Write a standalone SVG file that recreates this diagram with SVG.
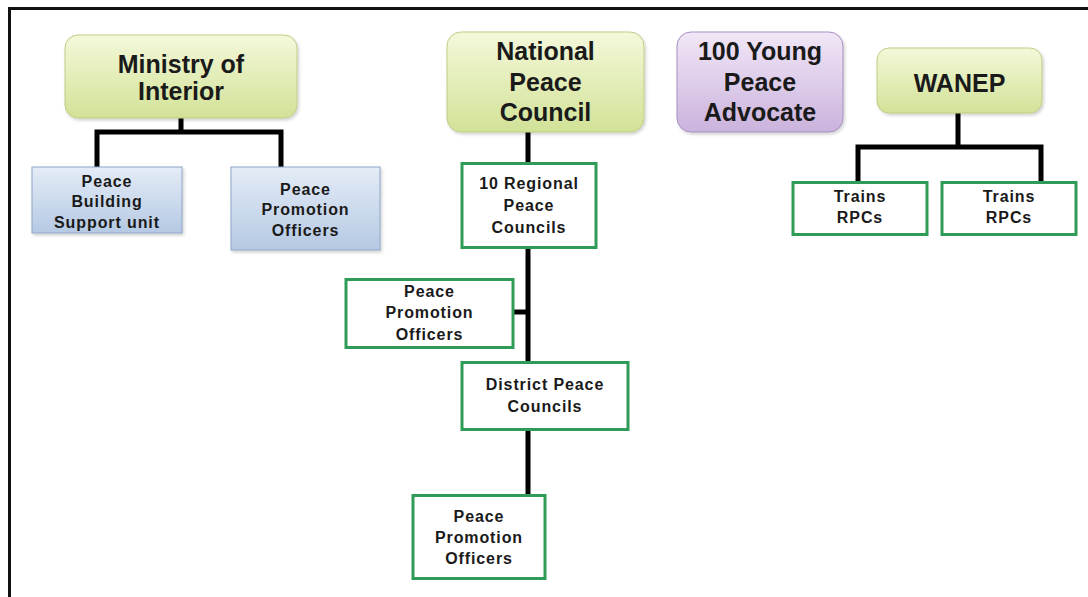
<svg xmlns="http://www.w3.org/2000/svg" width="1088" height="597" viewBox="0 0 1088 597">
  <defs>
    <linearGradient id="gGreen" x1="0" y1="0" x2="0" y2="1">
      <stop offset="0" stop-color="#f4f8da"/>
      <stop offset="1" stop-color="#d2e297"/>
    </linearGradient>
    <linearGradient id="gPurple" x1="0" y1="0" x2="0" y2="1">
      <stop offset="0" stop-color="#f1e7f7"/>
      <stop offset="1" stop-color="#cbb3dd"/>
    </linearGradient>
    <linearGradient id="gBlue" x1="0" y1="0" x2="0" y2="1">
      <stop offset="0" stop-color="#e4ecf7"/>
      <stop offset="1" stop-color="#b5c9e3"/>
    </linearGradient>
    <filter id="shadow" x="-10%" y="-10%" width="125%" height="130%">
      <feDropShadow dx="1.5" dy="2" stdDeviation="1.5" flood-color="#000" flood-opacity="0.18"/>
    </filter>
  </defs>
  <style>
    .frame { fill: none; stroke: #111; stroke-width: 3; }
    .link { fill: none; stroke: #000; stroke-width: 5; }
    .head-green { fill: url(#gGreen); stroke: #bccd85; stroke-width: 1; filter: url(#shadow); }
    .head-purple { fill: url(#gPurple); stroke: #a68fbe; stroke-width: 1; filter: url(#shadow); }
    .unit-blue { fill: url(#gBlue); stroke: #8ea6c7; stroke-width: 1; filter: url(#shadow); }
    .unit-green { fill: #fff; stroke: #2e9b57; stroke-width: 3; }
    .big { font-family: "Liberation Sans", Arial, sans-serif; font-weight: bold; font-size: 25px; fill: #1a1a1a; text-anchor: middle; }
    .small { font-family: "Liberation Sans", Arial, sans-serif; font-weight: bold; font-size: 16px; fill: #1a1a1a; text-anchor: middle; letter-spacing: 0.9px; }
  </style>

  <rect width="1088" height="597" fill="#fff"/>
  <path class="frame" d="M9.5 597 V8.5 H1088"/>

  <!-- connectors -->
  <g id="connectors">
    <path class="link" d="M181 118 V132 M97 167 V132 H281 V167"/>
    <path class="link" d="M528 132 V163 M528 247 V362 M513 312 H528 M528 429 V495"/>
    <path class="link" d="M958 113 V147 M858 182 V147 H1041 V182"/>
  </g>

  <!-- Ministry of Interior branch -->
  <g id="ministry-of-interior">
    <rect class="head-green" x="65" y="35" width="232" height="83" rx="13"/>
    <text class="big" x="181" y="73">Ministry of</text>
    <text class="big" x="181" y="100">Interior</text>
  </g>
  <g id="peace-building-support-unit">
    <rect class="unit-blue" x="32" y="167" width="150" height="66"/>
    <text class="small" x="107" y="187">Peace</text>
    <text class="small" x="107" y="207">Building</text>
    <text class="small" x="107" y="228">Support unit</text>
  </g>
  <g id="ministry-peace-promotion-officers">
    <rect class="unit-blue" x="231" y="167" width="149" height="83"/>
    <text class="small" x="305.5" y="195">Peace</text>
    <text class="small" x="305.5" y="215">Promotion</text>
    <text class="small" x="305.5" y="236">Officers</text>
  </g>

  <!-- National Peace Council branch -->
  <g id="national-peace-council">
    <rect class="head-green" x="447" y="32" width="197" height="100" rx="14"/>
    <text class="big" x="545.5" y="60">National</text>
    <text class="big" x="545.5" y="91">Peace</text>
    <text class="big" x="545.5" y="121">Council</text>
  </g>
  <g id="regional-peace-councils">
    <rect class="unit-green" x="462" y="163.5" width="134" height="84"/>
    <text class="small" x="529" y="189">10 Regional</text>
    <text class="small" x="529" y="211">Peace</text>
    <text class="small" x="529" y="233">Councils</text>
  </g>
  <g id="regional-peace-promotion-officers">
    <rect class="unit-green" x="346" y="279.5" width="167" height="68"/>
    <text class="small" x="429.5" y="297">Peace</text>
    <text class="small" x="429.5" y="318">Promotion</text>
    <text class="small" x="429.5" y="340">Officers</text>
  </g>
  <g id="district-peace-councils">
    <rect class="unit-green" x="462" y="362.5" width="166" height="67"/>
    <text class="small" x="545" y="390">District Peace</text>
    <text class="small" x="545" y="412">Councils</text>
  </g>
  <g id="district-peace-promotion-officers">
    <rect class="unit-green" x="413" y="495.5" width="132" height="83"/>
    <text class="small" x="479" y="522">Peace</text>
    <text class="small" x="479" y="543">Promotion</text>
    <text class="small" x="479" y="564">Officers</text>
  </g>

  <!-- 100 Young Peace Advocate -->
  <g id="young-peace-advocate">
    <rect class="head-purple" x="677" y="32" width="166" height="100" rx="14"/>
    <text class="big" x="760" y="60">100 Young</text>
    <text class="big" x="760" y="91">Peace</text>
    <text class="big" x="760" y="121">Advocate</text>
  </g>

  <!-- WANEP branch -->
  <g id="wanep">
    <rect class="head-green" x="877" y="48" width="165" height="65" rx="12"/>
    <text class="big" x="959.5" y="92">WANEP</text>
  </g>
  <g id="trains-rpcs-1">
    <rect class="unit-green" x="793" y="182.5" width="134" height="52"/>
    <text class="small" x="860" y="202">Trains</text>
    <text class="small" x="860" y="223">RPCs</text>
  </g>
  <g id="trains-rpcs-2">
    <rect class="unit-green" x="942" y="182.5" width="134" height="52"/>
    <text class="small" x="1009" y="202">Trains</text>
    <text class="small" x="1009" y="223">RPCs</text>
  </g>
</svg>
